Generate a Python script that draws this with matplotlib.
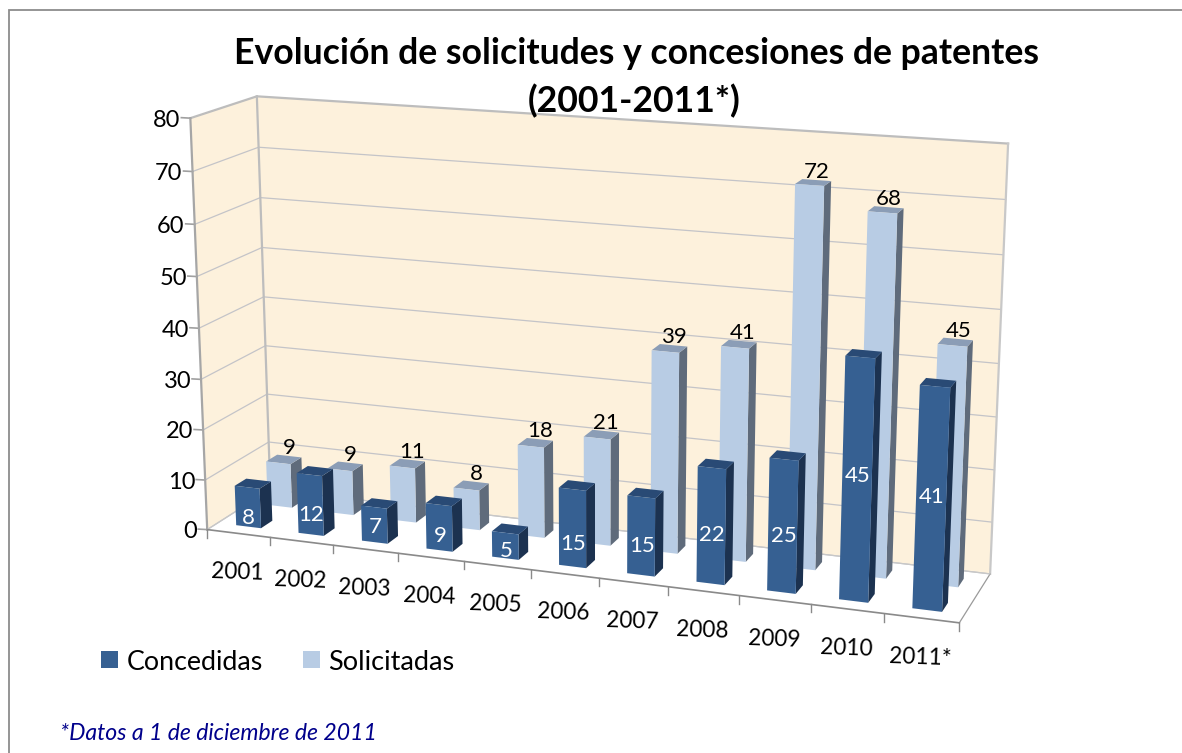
import numpy as np
import matplotlib
matplotlib.use("Agg")
import matplotlib.pyplot as plt
from matplotlib.patches import Rectangle

years = ["2001", "2002", "2003", "2004", "2005", "2006", "2007", "2008", "2009", "2010", "2011*"]
concedidas = [8, 12, 7, 9, 5, 15, 15, 22, 25, 45, 41]
solicitadas = [9, 9, 11, 8, 18, 21, 39, 41, 72, 68, 45]
yticks = [0, 10, 20, 30, 40, 50, 60, 70, 80]
title_lines = ["Evolución de solicitudes y concesiones de patentes", "(2001-2011*)"]
footnote = "*Datos a 1 de diciembre de 2011"

# calibration of the 3-D axes: (category, depth, value) -> pixel
calib = [
    ((0, 0, 0), (207, 528)), ((0, 0, 80), (190.7, 119)), ((0, 1, 80), (257, 96)),
    ((0, 1, 0), (271, 491)), ((11, 1, 80), (1008, 143)), ((11, 1, 0), (990, 573)),
    ((11, 0, 0), (959, 623)), ((1, 0, 0), (269, 537)), ((10, 0, 0), (885, 614)),
    ((4, 0, 0), (464, 563)), ((11, 1, 70), (1006, 200)), ((0, 1, 70), (258, 147)),
    ((0, 0, 10), (205, 479)), ((11, 1, 10), (992, 522)),
]
A = []
b = []
for (X, Y, Z), (u, v) in calib:
    A.append([X, Y, Z, 1, 0, 0, 0, 0, -u * X, -u * Y, -u * Z])
    b.append(u)
    A.append([0, 0, 0, 0, X, Y, Z, 1, -v * X, -v * Y, -v * Z])
    b.append(v)
sol = np.linalg.lstsq(np.array(A, float), np.array(b, float), rcond=None)[0]
P = np.append(sol, 1).reshape(3, 4)


def proj(x, d, z):
    w = P @ np.array([x, d, z, 1.0])
    return w[0] / w[2], w[1] / w[2]


plt.rcParams["font.family"] = ["Lato", "DejaVu Sans"]
fig = plt.figure(figsize=(11.82, 7.53), dpi=100)
ax = fig.add_axes([0, 0, 1, 1])
ax.set_xlim(0, 1182)
ax.set_ylim(753, 0)
ax.axis("off")

WALL = "#FDF1DC"
EDGE = "#BDBDBD"
GRID = "#C4C4C8"
nx = len(years)
zmax = yticks[-1]


def poly(pts, **kw):
    ax.fill([p[0] for p in pts], [p[1] for p in pts], **kw)


# chart frame: only the top and left edges fall inside the picture
ax.plot([8.5, 8.5, 1182], [753, 9.5, 9.5], color="#8C8C8C", lw=1.3, zorder=0, solid_joinstyle="miter")

# walls and floor
poly([proj(0, 0, 0), proj(0, 1, 0), proj(0, 1, zmax), proj(0, 0, zmax)], fc=WALL, ec="none", zorder=1)
poly([proj(0, 1, 0), proj(nx, 1, 0), proj(nx, 1, zmax), proj(0, 1, zmax)], fc=WALL, ec="none", zorder=1)
poly([proj(0, 0, 0), proj(nx, 0, 0), proj(nx, 1, 0), proj(0, 1, 0)], fc="white", ec="none", zorder=1)

for t in yticks:
    a, c, e = proj(0, 0, t), proj(0, 1, t), proj(nx, 1, t)
    lw = 1.6 if t == zmax else 0.9
    col = EDGE if t == zmax else GRID
    ax.plot([a[0], c[0], e[0]], [a[1], c[1], e[1]], color=col, lw=lw, zorder=2, solid_joinstyle="miter")
    ax.plot([a[0] - 9, a[0]], [a[1] - 0.5, a[1]], color="#A0A0A0", lw=1.2, zorder=2)
    ax.text(a[0] - 10, a[1] + 2, str(t), ha="right", va="center", fontsize=17, color="black", zorder=6)

for p0, p1, lw, col in [
    (proj(0, 0, 0), proj(0, 0, zmax), 1.6, "#A6A6A6"),
    (proj(0, 1, 0), proj(0, 1, zmax), 1.6, EDGE),
    (proj(nx, 1, 0), proj(nx, 1, zmax), 1.6, "#C8C8C8"),
    (proj(nx, 0, 0), proj(nx, 1, 0), 0.9, "#9A9A9A"),
    (proj(0, 0, 0), proj(0, 1, 0), 0.9, "#C8C8C8"),
    (proj(0, 1, 0), proj(nx, 1, 0), 0.9, "#C8C8C8"),
    (proj(0, 0, 0), proj(nx, 0, 0), 1.2, "#8A8A8A"),
]:
    ax.plot([p0[0], p1[0]], [p0[1], p1[1]], color=col, lw=lw, zorder=2)

for i in range(nx + 1):
    p = proj(i, 0, 0)
    ax.plot([p[0], p[0]], [p[1], p[1] + 8], color="#8A8A8A", lw=1.0, zorder=2)

BAR_W = 0.4


def bar(i, val, d0, d1, front, top, side, z):
    x0, x1 = i + 0.5 - BAR_W / 2, i + 0.5 + BAR_W / 2
    poly([proj(x1, d0, 0), proj(x1, d1, 0), proj(x1, d1, val), proj(x1, d0, val)], fc=side, ec="none", zorder=z)
    poly([proj(x0, d0, val), proj(x1, d0, val), proj(x1, d1, val), proj(x0, d1, val)], fc=top, ec="none", zorder=z)
    poly([proj(x0, d0, 0), proj(x1, d0, 0), proj(x1, d0, val), proj(x0, d0, val)], fc=front, ec="none", zorder=z)


# back row first, left to right; every bar stacks over the previous one
for i, v in enumerate(solicitadas):
    bar(i, v, 0.66, 0.84, "#B8CCE4", "#8B9DB6", "#5F6B7B", 3 + i * 0.01)
    p = proj(i + 0.5, 0.84, v)
    ax.text(p[0], p[1] - 8, str(v), ha="center", va="center", fontsize=16, color="black", zorder=5)

# vertical placement of the white labels on the faces, in pixels
inner_label_dy = [11, 10, 2, 9, 5, 16, 10, 9, 10, -5, -3]
for i, v in enumerate(concedidas):
    bar(i, v, 0.16, 0.34, "#366092", "#294A75", "#1C3250", 4 + i * 0.01)
    p = proj(i + 0.5, 0.16, v * 0.5)
    ax.text(p[0] + 1, p[1] + inner_label_dy[i], str(v), ha="center", va="center", fontsize=16, color="white", zorder=5)

for i, lab in enumerate(years):
    p = proj(i + 0.5, 0, 0)
    ax.text(p[0] - 1, p[1] + 39, lab, ha="center", va="center", fontsize=16.3, color="black", rotation=-2, zorder=6)

# legend
ax.add_patch(Rectangle((101, 651), 17, 17, fc="#366092", ec="none", zorder=6))
ax.text(127, 663, "Concedidas", ha="left", va="center", fontsize=19.3, color="black", zorder=6)
ax.add_patch(Rectangle((303, 651), 17, 17, fc="#B8CCE4", ec="none", zorder=6))
ax.text(328, 663, "Solicitadas", ha="left", va="center", fontsize=19.5, color="black", zorder=6)

# title and footnote
ax.text(636, 53, title_lines[0], ha="center", va="center", fontsize=25.7, fontweight="bold", color="black", zorder=7)
ax.text(634, 101, title_lines[1], ha="center", va="center", fontsize=25.7, fontweight="bold", color="black", zorder=7)
ax.text(60, 733, footnote, ha="left", va="center", fontsize=16.6, style="italic", color="#00008B", zorder=7)

fig.savefig("out.png", dpi=100)
